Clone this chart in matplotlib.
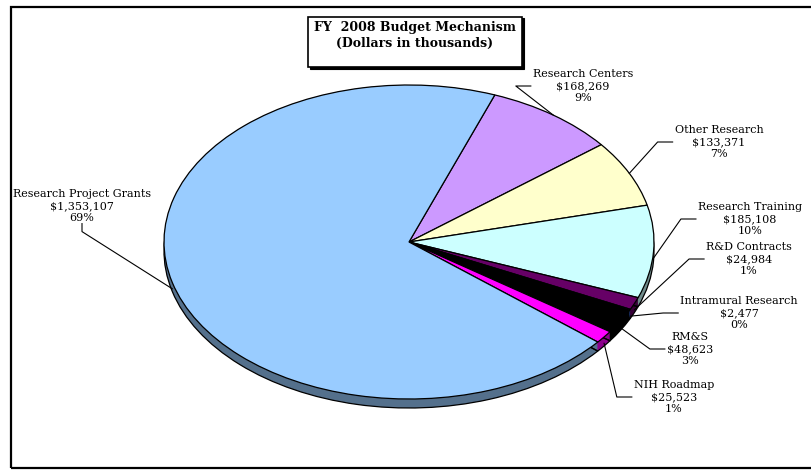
import numpy as np
import matplotlib
matplotlib.use("Agg")
import matplotlib.pyplot as plt
from matplotlib.patches import Rectangle
from matplotlib.lines import Line2D

# ---------------- data ----------------
categories = ["Research Centers", "Other Research", "Research Training", "R&D Contracts",
              "Intramural Research", "RM&S", "NIH Roadmap", "Research Project Grants"]
values = [168269, 133371, 185108, 24984, 2477, 48623, 25523, 1353107]
pct_labels = ["9%", "7%", "10%", "1%", "0%", "3%", "1%", "69%"]
title_lines = ["FY  2008 Budget Mechanism", "(Dollars in thousands)"]

# ---------------- style / layout ----------------
top_colors = ["#CC99FF", "#FFFFCC", "#CCFFFF", "#660066", "#3366CC", "#000000", "#FF00FF", "#99CCFF"]
shade = 0.55
def darken(c, f=shade):
    c = c.lstrip("#")
    r, g, b = [int(c[i:i + 2], 16) / 255 for i in (0, 2, 4)]
    return (r * f, g * f, b * f)
side_colors = [darken(c) for c in top_colors]

W, H = 812, 470
CX, CY = 409, 242        # pie centre (pixels from top-left)
RX, RY = 245, 157        # ellipse semi-axes (pixels)
DEPTH = 9                # pixel depth of the 3-D rim
START = 69.5

# label anchor (centre x, middle-line y) in pixels from top-left
label_pos = [(583, 86), (719, 142), (750, 219), (749, 259),
             (739, 313), (690, 349), (674, 397), (82, 206)]

serif = "DejaVu Serif"
fig = plt.figure(figsize=(W / 100, H / 100), dpi=100)
fig.patch.set_facecolor("white")

ax = fig.add_axes([0, 0, 1, 1])
ax.axis("off")

depth_d = DEPTH / RY
# rim layers
for k in np.linspace(depth_d, 0, 12):
    ax.pie(values, radius=1, center=(0, -k), colors=side_colors, startangle=START,
           counterclock=False, wedgeprops=dict(linewidth=0, antialiased=True))
# rim bottom outline
ax.pie(values, radius=1, center=(0, -depth_d), colors=side_colors, startangle=START,
       counterclock=False, wedgeprops=dict(fill=False, edgecolor="black", linewidth=0.9))
# top face
ax.pie(values, radius=1, center=(0, 0), colors=top_colors, startangle=START,
       counterclock=False, wedgeprops=dict(edgecolor="black", linewidth=0.9))

ax.set_aspect("auto")
ax.set_xlim((0 - CX) / RX, (W - CX) / RX)
cy_b = H - CY
ax.set_ylim((0 - cy_b) / RY, (H - cy_b) / RY)

# ---------------- frame & title ----------------
fig.add_artist(Rectangle((11 / W, 2 / H), (830 - 11) / W, (468 - 7) / H, transform=fig.transFigure,
                         fill=False, edgecolor="black", linewidth=1.6, zorder=5))
bx0, bx1, by0, by1 = 308, 522, 17, 67
fig.add_artist(Rectangle(((bx0 + 1.5) / W, (H - by1 - 1.5) / H), (bx1 - bx0) / W, (by1 - by0) / H,
                         transform=fig.transFigure, facecolor="black", edgecolor="black",
                         linewidth=0.8, zorder=5))
fig.add_artist(Rectangle((bx0 / W, (H - by1) / H), (bx1 - bx0) / W, (by1 - by0) / H,
                         transform=fig.transFigure, facecolor="white", edgecolor="black",
                         linewidth=1.2, zorder=6))
for line, ty in zip(title_lines, [28, 43]):
    fig.text((bx0 + bx1) / 2 / W, 1 - ty / H, line, ha="center", va="center",
             fontfamily=serif, fontweight="bold", fontsize=9, zorder=7)

# ---------------- labels & leader lines ----------------
fig.canvas.draw()
renderer = fig.canvas.get_renderer()
total = float(sum(values))
cum = np.cumsum(values)
for i, (name, v, p) in enumerate(zip(categories, values, pct_labels)):
    lx, ly = label_pos[i]
    txt = f"{name}\n${v:,}\n{p}"
    t = fig.text(lx / W, 1 - ly / H, txt, ha="center", va="center", multialignment="center",
                 fontfamily=serif, fontsize=8.0, linespacing=1.2, color="black", zorder=7)
    bb = t.get_window_extent(renderer)
    # leader end on pie edge at slice mid angle
    theta = np.deg2rad(START - (cum[i] - v / 2) / total * 360)
    ex, ey = np.cos(theta), np.sin(theta)
    if ey < 0:
        ey -= 0.7 * depth_d
    px, py = ax.transData.transform((ex, ey))
    if lx < CX:
        xm = (bb.x0 + bb.x1) / 2
        ys = [bb.y0 - 1, bb.y0 - 9, py]
        xs = [xm, xm, px]
    else:
        yl = H - ly
        xs = [bb.x0 - 2, bb.x0 - 17, px]
        ys = [yl, yl, py]
    fig.add_artist(Line2D(np.array(xs) / W, np.array(ys) / H, transform=fig.transFigure,
                          color="black", linewidth=0.8, zorder=7))

fig.savefig("out.png", dpi=100)
